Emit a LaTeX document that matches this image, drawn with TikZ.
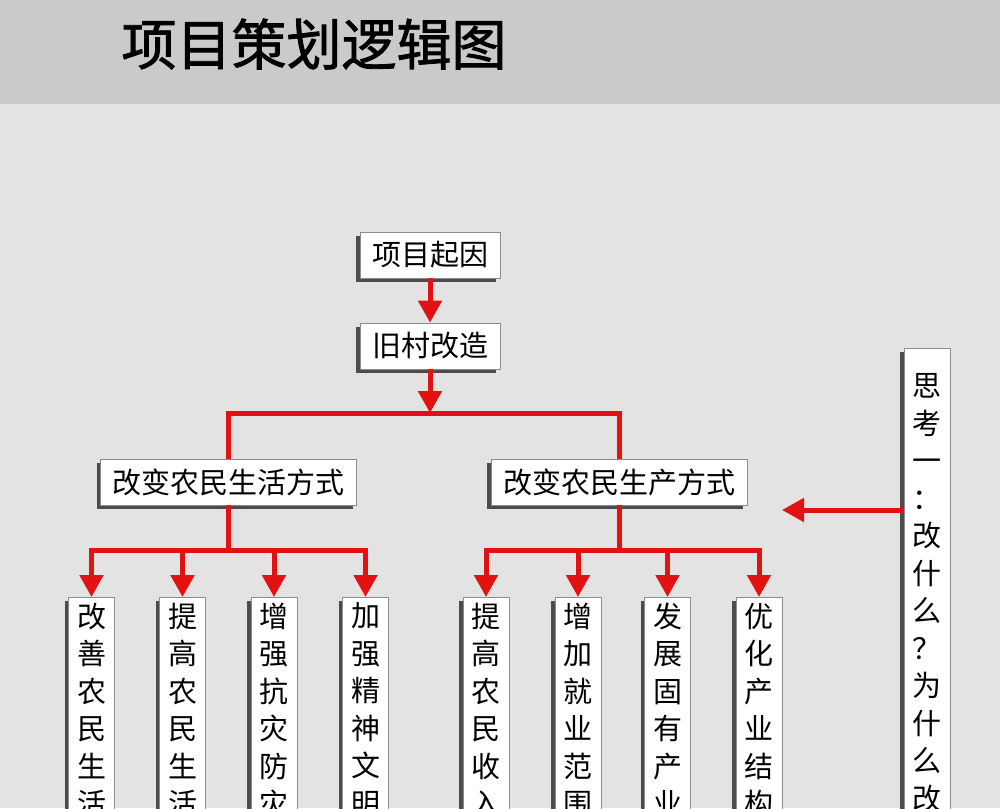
\documentclass[tikz,border=0pt]{standalone}
\usepackage{fontspec}
\newfontfamily\cjk{Noto Sans CJK SC}
\newfontfamily\headfont[FakeBold=1.5]{Noto Sans CJK SC}
\usetikzlibrary{arrows.meta,shadows}
\definecolor{arrowred}{RGB}{226,18,18}
\definecolor{bandgray}{RGB}{202,202,202}
\definecolor{pagegray}{RGB}{227,227,227}
\newcommand{\vcol}[1]{\parbox[t]{30pt}{\centering\fontsize{29}{37.5}\selectfont #1}}

\begin{document}
\begin{tikzpicture}[x=1pt, y=-1pt, font=\cjk\fontsize{29}{34}\selectfont,
    box/.style={draw=black!45, fill=white, line width=0.8pt, inner xsep=12pt, minimum height=46pt,
        drop shadow={shadow xshift=-4pt, shadow yshift=-4pt, fill=black!70, opacity=1}},
    vbox/.style={box, anchor=north, inner xsep=8pt, inner ysep=5.5pt, minimum width=46pt},
    link/.style={arrowred, line width=5pt},
    arr/.style={link, -{Triangle[width=23pt,length=22pt]}}]
		\clip (0,0) rectangle (1000,808);
		\fill[pagegray] (0,0) rectangle (1000,808);
		\fill[bandgray] (0,0) rectangle (1000,104);
		\node[anchor=west, font=\headfont\fontsize{55}{55}\selectfont] (title) at (118,44) {项目策划逻辑图};

		\node[box] (cause) at (430,255) {项目起因};
		\node[box] (village) at (430,346) {旧村改造};
		\node[box] (life) at (228.5,482) {改变农民生活方式};
		\node[box] (prod) at (619,482) {改变农民生产方式};
		\node[vbox, inner ysep=25.5pt] (think) at (927,348) {\vcol{思\\考\\一\\：\\改\\什\\么\\？\\为\\什\\么\\改}};

		\foreach \x/\txt [count=\i] in {91.5/{改\\善\\农\\民\\生\\活}, 182.5/{提\\高\\农\\民\\生\\活},
		    274/{增\\强\\抗\\灾\\防\\灾}, 365.5/{加\\强\\精\\神\\文\\明}, 486/{提\\高\\农\\民\\收\\入},
		    578/{增\\加\\就\\业\\范\\围}, 667.5/{发\\展\\固\\有\\产\\业}, 759/{优\\化\\产\\业\\结\\构}}
			\node[vbox] (v\i) at (\x,597) {\vcol{\txt}};

		\coordinate (split) at (430,413);
		\coordinate (lsplit) at (228.5,550);
		\coordinate (rsplit) at (619,550);
		\coordinate (focus) at (782,510);

		\draw[arr] (cause) -- (village);
		\draw[arr] (village) -- (split);
		\draw[link] (life.north) |- (split) -| (prod.north);
		\draw[link] (life) -- (lsplit);
		\draw[link] (prod) -- (rsplit);
		\foreach \i in {1,...,4}
			\draw[arr] (lsplit) -| (v\i);
		\foreach \i in {5,...,8}
			\draw[arr] (rsplit) -| (v\i);
		\draw[arr] (think.west |- focus) -- (focus);

	    \end{tikzpicture}
\end{document}
